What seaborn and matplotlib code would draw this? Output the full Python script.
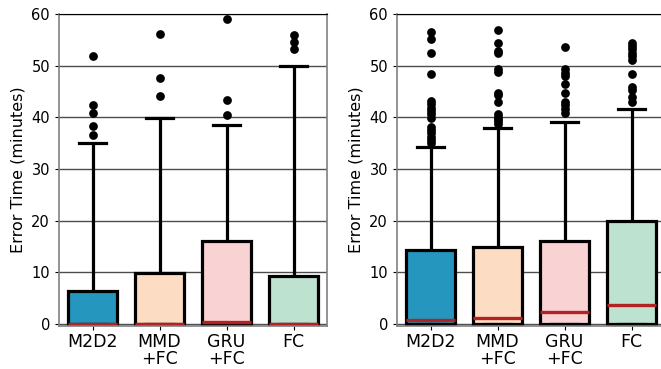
import numpy as np
import pandas as pd
import matplotlib
matplotlib.use("Agg")
import matplotlib.pyplot as plt
import seaborn as sns

models = ["M2D2", "MMD\n+FC", "GRU\n+FC", "FC"]
colors = ["#2596be", "#fddcc4", "#f9d3d3", "#bde2d0"]

# left panel
left_median = [0.0, 0.0, 0.4, 0.0]
left_q3 = [6.3, 9.9, 16.1, 9.2]
left_whisker = [35.0, 39.9, 38.5, 49.9]
left_outliers = [
    [36.6, 38.4, 40.9, 42.3, 51.9],
    [44.1, 47.7, 56.1],
    [40.5, 43.4, 59.0],
    [53.3, 54.6, 55.9],
]

# right panel
right_median = [0.7, 1.1, 2.4, 3.7]
right_q3 = [14.3, 14.9, 16.1, 19.9]
right_whisker = [34.2, 37.9, 39.0, 41.6]
right_outliers = [
    [35.0, 35.6, 36.2, 36.9, 37.5, 38.2, 39.8, 40.6, 41.3, 41.9, 42.6, 43.2, 48.4, 52.4, 55.1, 56.6],
    [38.7, 39.2, 39.7, 40.1, 40.6, 43.0, 44.4, 44.8, 48.7, 49.3, 52.4, 52.8, 54.3, 56.9],
    [40.9, 41.7, 42.4, 43.0, 44.8, 46.5, 48.0, 48.6, 49.3, 53.6],
    [43.0, 43.9, 45.2, 45.9, 48.3, 51.1, 51.9, 52.5, 53.2, 53.8, 54.4],
]


def make_frames(median, q3, whisker, outliers):
    rows = []
    for m, md, hi, wh in zip(models, median, q3, whisker):
        # five points -> q1 = 0, median, q3, whisker ends at min / max
        for v in [0.0, 0.0, md, hi, wh]:
            rows.append((m, v))
    box_df = pd.DataFrame(rows, columns=["model", "value"])
    out_rows = [(m, v) for m, vals in zip(models, outliers) for v in vals]
    out_df = pd.DataFrame(out_rows, columns=["model", "value"])
    return box_df, out_df


def draw_panel(ax, median, q3, whisker, outliers):
    box_df, out_df = make_frames(median, q3, whisker, outliers)
    sns.boxplot(
        data=box_df, x="model", y="value", hue="model", palette=colors,
        order=models, hue_order=models, legend=False, saturation=1,
        whis=(0, 100), showfliers=False, width=0.72, ax=ax,
        linewidth=2.3, linecolor="black",
        medianprops={"color": "#b22222", "linewidth": 2.4},
        capwidths=0.4,
    )
    sns.stripplot(
        data=out_df, x="model", y="value", order=models, jitter=False,
        color="black", size=6.3, ax=ax, zorder=3,
    )
    ax.set_xlim(-0.5, 3.5)
    ax.set_ylim(-0.4, 60)
    ax.set_yticks([0, 10, 20, 30, 40, 50, 60])
    ax.yaxis.grid(True, color="0.3", linewidth=1.0)
    ax.set_axisbelow(True)
    ax.set_xlabel("")
    ax.set_ylabel("Error Time (minutes)", fontsize=11.5)
    ax.tick_params(axis="x", labelsize=12.5, length=3, pad=2)
    ax.tick_params(axis="y", labelsize=10.5, length=3)
    for lab in ax.get_xticklabels():
        lab.set_linespacing(0.95)
    for side in ["left", "right", "bottom"]:
        ax.spines[side].set_color("0.5")
        ax.spines[side].set_linewidth(1.2)
    ax.spines["top"].set_color("black")


fig = plt.figure(figsize=(6.61, 3.69), dpi=100)
ax1 = fig.add_axes([0.0893, 0.1165, 0.4055, 0.8455])
ax2 = fig.add_axes([0.6006, 0.1165, 0.4055, 0.8455])

draw_panel(ax1, left_median, left_q3, left_whisker, left_outliers)
draw_panel(ax2, right_median, right_q3, right_whisker, right_outliers)

fig.savefig("out.png", dpi=100)
